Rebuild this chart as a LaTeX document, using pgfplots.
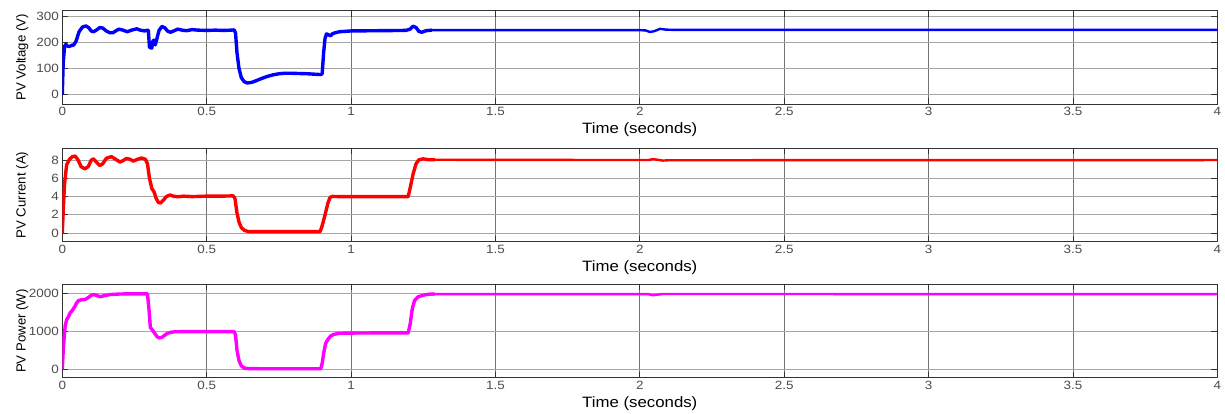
\documentclass[border=0pt]{standalone}
\usepackage{pgfplots}
\pgfplotsset{compat=1.18}
\usepackage{fontspec}
\setmainfont{Liberation Sans}[FakeStretch=1.12]
\newfontfamily\ylabfont{Liberation Sans}
\definecolor{mblue}{RGB}{0,0,255}
\definecolor{mred}{RGB}{255,0,0}
\definecolor{mmag}{RGB}{255,0,255}
\pgfplotsset{
  mystyle/.style={
    scale only axis, width=1155pt, height=93.3pt,
    xmin=0, xmax=4, xtick={0,0.5,...,4},
    grid=major,
    x grid style={black!55, line width=0.7pt},
    y grid style={black!35, line width=0.7pt},
    axis line style={black!80, line width=0.8pt},
    tick align=inside, major tick length=6pt,
    tick style={black!80, line width=0.8pt},
    /pgf/number format/assume math mode=true,
    /pgf/number format/1000 sep={},
    ticklabel style={font=\fontsize{12}{12}\selectfont, text=black!70},
    xlabel={Time (seconds)},
    xlabel style={at={(axis description cs:0.5,0)}, anchor=center, yshift=-25.5pt, font=\fontsize{15}{15}\selectfont},
    ylabel style={at={(axis description cs:-0.0346,0.5)}, anchor=center, font=\ylabfont\fontsize{13.2}{13.2}\selectfont},
  }
}
\begin{document}
\begin{tikzpicture}
\useasboundingbox (0pt,0pt) rectangle (1225pt,-413pt);
% ---------------- Voltage
\begin{axis}[mystyle, at={(62.3pt,-104pt)}, anchor=south west,
  ymin=-35, ymax=320, ytick={0,100,200,300}, ylabel={PV Voltage (V)}]
\addplot[mblue, line width=3.4pt, line join=round] coordinates {
(0,0) (0.003,120) (0.008,185) (0.012,192) (0.018,185) (0.025,184) (0.032,188) (0.04,190)
(0.048,205) (0.058,240) (0.07,258) (0.082,262) (0.092,255) (0.1,243) (0.108,240) (0.118,246)
(0.13,256) (0.14,254) (0.152,243) (0.165,236) (0.175,236) (0.185,243) (0.196,250) (0.21,246)
(0.225,240) (0.24,246) (0.258,251) (0.27,246) (0.285,243) (0.295,246) (0.298,245) (0.302,180)
(0.31,178) (0.314,205) (0.318,208) (0.322,190) (0.328,215) (0.335,245) (0.345,260) (0.355,255)
(0.365,242) (0.375,238) (0.388,244) (0.4,250) (0.415,246) (0.43,244) (0.45,248) (0.47,246)
(0.5,245) (0.53,246) (0.56,245) (0.585,246) (0.595,247) (0.6,235) (0.605,160) (0.612,100)
(0.62,65) (0.63,50) (0.64,45) (0.655,47) (0.67,53) (0.69,62) (0.71,70) (0.73,76) (0.75,80)
(0.77,82) (0.79,82) (0.82,81) (0.85,80) (0.88,78) (0.895,77) (0.9,80) (0.905,160) (0.91,215)
(0.915,232) (0.922,228) (0.93,225) (0.935,232) (0.945,236) (0.96,240) (1.0,243) (1.1,244)
(1.19,245) (1.205,250) (1.215,261) (1.225,256) (1.235,241) (1.245,238) (1.26,244) (1.28,246)
};
\addplot[mblue, line width=2.4pt, line join=round] coordinates {
(1.28,246) (2.0,246) (2.02,245) (2.035,239) (2.05,242) (2.07,251) (2.09,248) (2.12,247) (4,247)
};
\end{axis}
% ---------------- Current
\begin{axis}[mystyle, at={(62.3pt,-241.7pt)}, anchor=south west,
  ymin=-0.96, ymax=9.3, ytick={0,2,4,6,8}, ylabel={PV Current (A)}]
\addplot[mred, line width=3.4pt, line join=round] coordinates {
(0,0) (0.004,3) (0.008,5.5) (0.015,7.5) (0.025,8.1) (0.035,8.4) (0.045,8.45) (0.055,8.0)
(0.065,7.3) (0.078,7.05) (0.09,7.3) (0.1,8.0) (0.108,8.15) (0.118,7.8) (0.13,7.42) (0.14,7.6)
(0.152,8.2) (0.17,8.4) (0.185,8.1) (0.2,7.8) (0.21,7.95) (0.222,8.2) (0.235,8.1) (0.246,7.9)
(0.26,8.1) (0.275,8.25) (0.288,8.1) (0.295,7.6) (0.302,6.0) (0.31,4.9) (0.318,4.5) (0.325,3.8)
(0.333,3.35) (0.34,3.3) (0.35,3.6) (0.36,4.0) (0.373,4.18) (0.385,4.05) (0.4,3.98) (0.42,4.05)
(0.45,4.0) (0.5,4.05) (0.55,4.05) (0.592,4.08) (0.598,3.8) (0.605,2.2) (0.612,1.2) (0.62,0.6)
(0.63,0.3) (0.645,0.15) (0.7,0.15) (0.8,0.15) (0.893,0.15) (0.9,0.8) (0.91,2.0) (0.92,3.3)
(0.927,3.9) (0.935,4.02) (0.96,4.0) (1.0,4.0) (1.1,4.0) (1.198,4.0) (1.205,5.0) (1.215,6.5)
(1.225,7.6) (1.235,8.05) (1.25,8.15) (1.27,8.05) (1.29,8.05)
};
\addplot[mred, line width=2.4pt, line join=round] coordinates {
(1.29,8.05) (2.03,8.02) (2.045,8.12) (2.06,8.06) (2.08,7.96) (2.1,8.0) (4,8.02)
};
\end{axis}
% ---------------- Power
\begin{axis}[mystyle, at={(62.3pt,-377.7pt)}, anchor=south west,
  ymin=-233, ymax=2250, ytick={0,1000,2000}, ylabel={PV Power (W)}]
\addplot[mmag, line width=3.4pt, line join=round] coordinates {
(0,0) (0.004,600) (0.01,1150) (0.015,1310) (0.022,1400) (0.027,1490) (0.035,1560) (0.044,1670)
(0.05,1760) (0.056,1820) (0.065,1840) (0.079,1850) (0.09,1900) (0.1,1960) (0.107,1980)
(0.118,1960) (0.131,1920) (0.145,1950) (0.165,1980) (0.2,1995) (0.25,2000) (0.295,2000)
(0.3,1600) (0.305,1100) (0.312,1040) (0.32,950) (0.328,860) (0.336,825) (0.345,840) (0.355,900)
(0.365,950) (0.375,975) (0.39,990) (0.45,995) (0.55,995) (0.595,995) (0.6,900) (0.605,500)
(0.612,220) (0.62,80) (0.63,25) (0.645,10) (0.7,5) (0.8,5) (0.895,5) (0.9,150) (0.906,450)
(0.912,680) (0.92,790) (0.93,880) (0.94,920) (0.96,950) (1.0,955) (1.1,960) (1.198,960)
(1.205,1200) (1.212,1600) (1.22,1820) (1.232,1920) (1.245,1950) (1.26,1980) (1.28,1995) (1.29,1990)
};
\addplot[mmag, line width=2.4pt, line join=round] coordinates {
(1.29,1990) (2.03,1990) (2.045,1960) (2.06,1975) (2.08,1995) (4,1990)
};
\end{axis}
\end{tikzpicture}
\end{document}
